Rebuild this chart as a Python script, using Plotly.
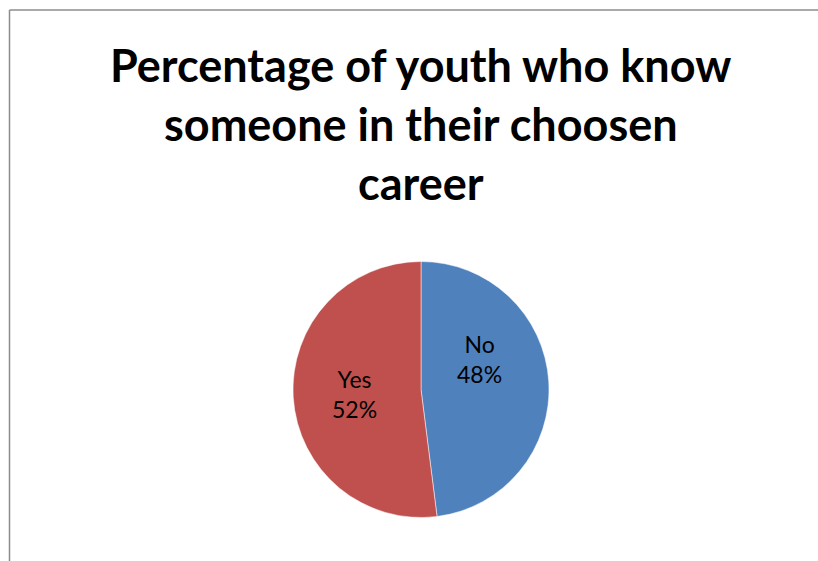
import math
import plotly.graph_objects as go

# Survey answers and their shares (percent)
answers = ["No", "Yes"]
shares = [48, 52]
slice_colors = ["#4F81BD", "#C0504D"]

title_lines = [
    "Percentage of youth who know",
    "someone in their choosen",
    "career",
]

W, H = 818, 561
# Pie placement in pixels (centre and radius)
CX, CY, R = 421, 389.5, 128
LABEL_R = 0.52          # label distance as a fraction of the radius
LABEL_NUDGE = [-24, 0]  # best-fit style angular shift per slice (degrees)

fig = go.Figure(
    go.Pie(
        labels=answers,
        values=shares,
        sort=False,
        direction="clockwise",
        rotation=0,
        marker=dict(colors=slice_colors, line=dict(color="white", width=0.5)),
        textposition="none",
        hoverinfo="label+percent",
        showlegend=False,
        domain=dict(x=[(CX - R) / W, (CX + R) / W],
                    y=[1 - (CY + R) / H, 1 - (CY - R) / H]),
    )
)

# Data labels: placed at each slice's mid-angle (clockwise from 12 o'clock)
total = sum(shares)
start = 0.0
for name, val, nudge in zip(answers, shares, LABEL_NUDGE):
    sweep = 360.0 * val / total
    mid = math.radians(start + sweep / 2 + nudge)
    start += sweep
    px = CX + LABEL_R * R * math.sin(mid)
    py = CY - LABEL_R * R * math.cos(mid)
    fig.add_annotation(
        text=f"{name}<br>{round(100 * val / total)}%",
        x=px / W, y=1 - py / H,
        xref="paper", yref="paper",
        xanchor="center", yanchor="middle",
        showarrow=False, align="center",
        font=dict(family="Lato", size=23, color="black"),
    )

# Title, one annotation per line
line_y = [65, 124, 183]
for text, yc in zip(title_lines, line_y):
    fig.add_annotation(
        text=f"<b>{text}</b>",
        x=421 / W, y=1 - yc / H,
        xref="paper", yref="paper",
        xanchor="center", yanchor="middle",
        showarrow=False,
        font=dict(family="Lato", size=45, color="black"),
    )

# Chart area border (left and top edges)
border = dict(color="#8C8C8C", width=1.5)
fig.add_shape(type="line", xref="paper", yref="paper",
              x0=9.5 / W, y0=0, x1=9.5 / W, y1=1 - 10 / H, line=border)
fig.add_shape(type="line", xref="paper", yref="paper",
              x0=9.5 / W, y0=1 - 10 / H, x1=1, y1=1 - 10 / H, line=border)

fig.update_layout(
    width=W, height=H,
    margin=dict(l=0, r=0, t=0, b=0),
    paper_bgcolor="white",
    plot_bgcolor="white",
)

fig.write_html("out.html")
